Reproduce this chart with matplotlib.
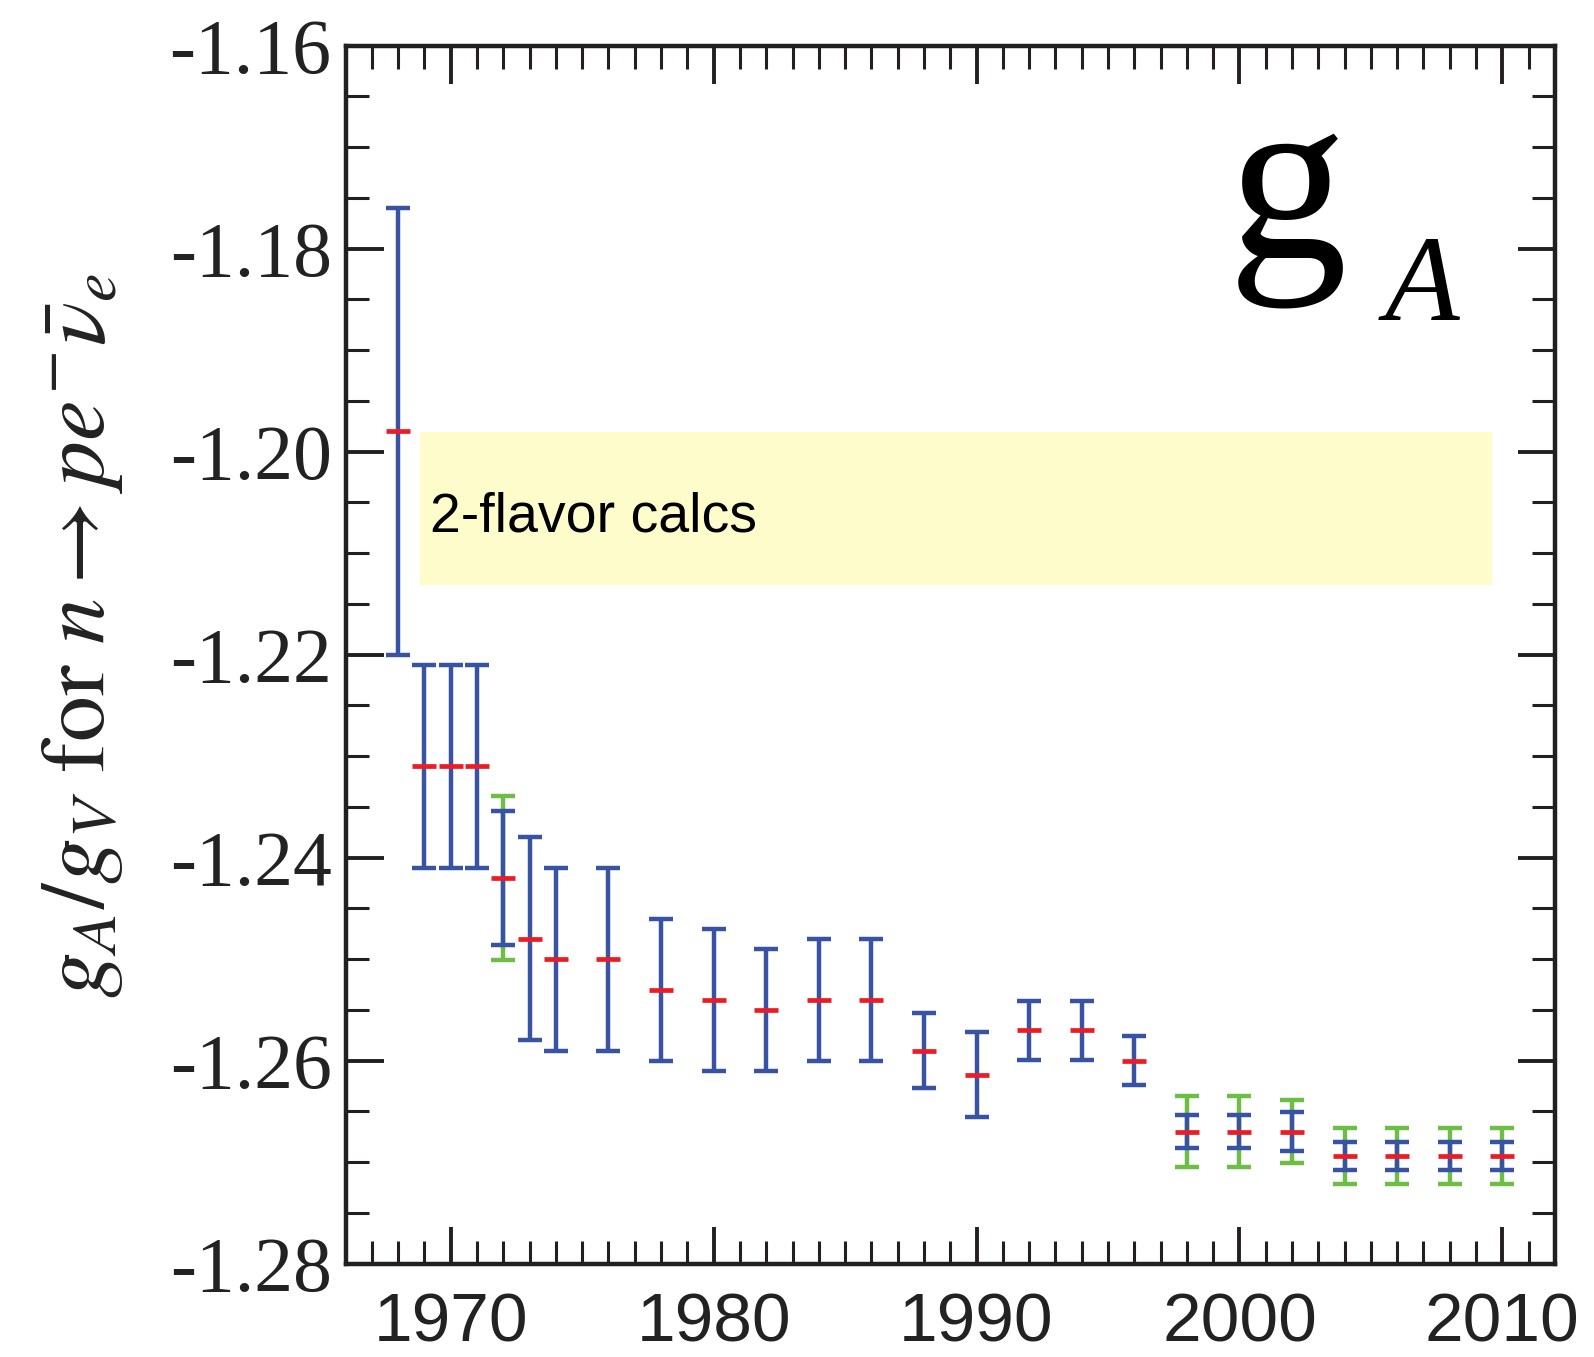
import numpy as np
import matplotlib
matplotlib.use("Agg")
import matplotlib.pyplot as plt
from matplotlib import font_manager

# Measurement history of g_A/g_V (central value + error bars)
years = [1968, 1969, 1970, 1971, 1972, 1973, 1974, 1976, 1978, 1980, 1982, 1984,
         1986, 1988, 1990, 1992, 1994, 1996, 1998, 2000, 2002, 2004, 2006, 2008, 2010]
central = [-1.198, -1.231, -1.231, -1.231, -1.242, -1.248, -1.250, -1.250, -1.253,
           -1.254, -1.255, -1.254, -1.254, -1.259, -1.2614, -1.257, -1.257, -1.260,
           -1.267, -1.267, -1.267, -1.2694, -1.2694, -1.2694, -1.2694]
err_blue = [0.022, 0.010, 0.010, 0.010, 0.0066, 0.010, 0.009, 0.009, 0.007,
            0.007, 0.006, 0.006, 0.006, 0.0037, 0.0042, 0.0029, 0.0029, 0.0024,
            0.0016, 0.0016, 0.0019, 0.0014, 0.0014, 0.0014, 0.0014]

# wider (scaled) errors shown in green for some entries
green_years = [1972, 1998, 2000, 2002, 2004, 2006, 2008, 2010]
err_green = [0.0081, 0.0035, 0.0035, 0.0031, 0.0028, 0.0028, 0.0028, 0.0028]

# lattice 2-flavor band
band_x = [1968.83, 2009.6]
band_y = [-1.2131, -1.1981]

BLUE = '#3953a4'
RED = '#ed1c24'
GREEN = '#6cbe45'

fonts = {f.name for f in font_manager.fontManager.ttflist}
xtick_font = 'Liberation Sans Narrow' if 'Liberation Sans Narrow' in fonts else 'Liberation Sans'

plt.rcParams['mathtext.fontset'] = 'stix'

fig = plt.figure(figsize=(15.94, 13.57), dpi=100)
ax = fig.add_axes([0.2168, 0.0688, 0.7587, 0.8975])

ax.fill_between(band_x, band_y[0], band_y[1], color='#fffccb', lw=0, zorder=1)
ax.text(1969.21, -1.2079, '2-flavor calcs', family='Liberation Sans', fontsize=40,
        va='baseline', ha='left', color='black', zorder=2)

green_central = [central[years.index(y)] for y in green_years]
ax.errorbar(green_years, green_central, yerr=err_green, fmt='none', ecolor=GREEN,
            elinewidth=3.2, capsize=8.6, capthick=3.2, zorder=3)
ax.errorbar(years, central, yerr=err_blue, fmt='none', ecolor=BLUE,
            elinewidth=3.2, capsize=8.6, capthick=3.2, zorder=4)
ax.plot(years, central, ls='none', marker='_', ms=17.3, mew=3.4, color=RED, zorder=5)

ax.set_xlim(1966, 2012)
ax.set_ylim(-1.28, -1.16)
ax.set_xticks([1970, 1980, 1990, 2000, 2010])
ax.set_xticks(np.arange(1967, 2012), minor=True)
ax.set_yticks([-1.28, -1.26, -1.24, -1.22, -1.20, -1.18, -1.16])
ax.set_yticks(np.arange(-1.275, -1.16, 0.005), minor=True)
ax.set_yticklabels(['-1.28', '-1.26', '-1.24', '-1.22', '-1.20', '-1.18', '-1.16'])

ax.tick_params(which='both', direction='in', top=True, right=True, color='#231f20')
ax.tick_params(which='major', length=27, width=2.8)
ax.tick_params(which='minor', length=16.5, width=2.2)
ax.tick_params(axis='y', which='major', pad=10, labelsize=56)
ax.tick_params(axis='x', which='major', pad=20, labelsize=50)
for lab in ax.get_yticklabels():
    lab.set_family('Liberation Serif')
    lab.set_color('#222222')
for lab in ax.get_xticklabels():
    lab.set_family(xtick_font)
    lab.set_color('#222222')
for sp in ax.spines.values():
    sp.set_linewidth(3.2)
    sp.set_color('#231f20')

fig.text(80 / 1594, 1 - 635 / 1357,
         r'$g_A/g_V\ \mathrm{for}\ n \rightarrow pe^{-}\bar{\nu}_e$',
         rotation=90, ha='center', va='center', fontsize=66, color='#222222')

fig.text(1228 / 1594, 1 - 256 / 1357, 'g', family='Liberation Serif',
         fontsize=172, ha='left', va='baseline')
fig.text(1385 / 1594, 1 - 320 / 1357, 'A', family='Liberation Serif',
         style='italic', fontsize=88, ha='left', va='baseline')

fig.savefig('out.png', dpi=100)
